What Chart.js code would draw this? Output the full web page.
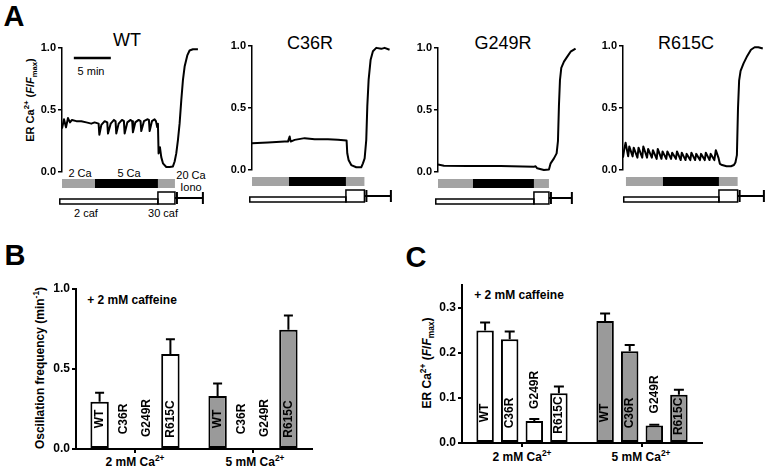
<!DOCTYPE html>
<html>
<head>
<meta charset="utf-8">
<script src="https://cdn.jsdelivr.net/npm/chart.js@4.4.1/dist/chart.umd.min.js"></script>
<style>
  html, body { margin: 0; padding: 0; background: #fff; }
  body { width: 768px; height: 468px; position: relative; overflow: hidden; font-family: 'Liberation Sans', Arial, sans-serif; color: #000; }
  canvas { position: absolute; }
  .t { position: absolute; transform: translate(-50%, -50%); white-space: nowrap; line-height: 1; }
  .r { transform: translate(-50%, -50%) rotate(-90deg); }
  .b { font-weight: bold; }
  sup, sub { font-size: 70%; line-height: 0; }
</style>
</head>
<body>

<!-- panel letters -->
<div class="t b" style="left:14px;top:16px;font-size:29px">A</div>
<div class="t b" style="left:15px;top:255px;font-size:29px">B</div>
<div class="t b" style="left:416px;top:257px;font-size:29px">C</div>

<!-- panel A -->
<div class="t" style="left:127px;top:40px;font-size:18px">WT</div>
<div class="t" style="left:310px;top:43px;font-size:18px">C36R</div>
<div class="t" style="left:503px;top:43px;font-size:18px">G249R</div>
<div class="t" style="left:686px;top:43px;font-size:18px">R615C</div>
<div class="t r b" style="left:30px;top:100px;font-size:11px">ER Ca<sup>2+</sup> (<i>F</i>/<i>F</i><sub>max</sub>)</div>
<div class="t" style="left:91px;top:71px;font-size:11px">5 min</div>
<div class="t" style="left:80px;top:173px;font-size:11px">2 Ca</div>
<div class="t" style="left:129px;top:173px;font-size:11px">5 Ca</div>
<div class="t" style="left:191px;top:175px;font-size:11px">20 Ca</div>
<div class="t" style="left:191px;top:187px;font-size:11px">Iono</div>
<div class="t" style="left:86px;top:213px;font-size:11px">2 caf</div>
<div class="t" style="left:163px;top:213px;font-size:11px">30 caf</div>

<canvas id="wt" width="180" height="174" style="left:32px;top:38px"></canvas>
<canvas id="c36r" width="180" height="174" style="left:222px;top:36px"></canvas>
<canvas id="g249r" width="180" height="174" style="left:408px;top:38px"></canvas>
<canvas id="r615c" width="180" height="174" style="left:593px;top:36px"></canvas>

<!-- panel B -->
<div class="t r b" style="left:40px;top:368px;font-size:12px">Oscillation frequency (min<sup>-1</sup>)</div>
<div class="t b" style="left:132px;top:300px;font-size:12px">+ 2 mM caffeine</div>
<div class="t b" style="left:135px;top:462px;font-size:12px">2 mM Ca<sup>2+</sup></div>
<div class="t b" style="left:255px;top:462px;font-size:12px">5 mM Ca<sup>2+</sup></div>
<canvas id="freq" width="290" height="198" style="left:40px;top:270px"></canvas>

<!-- panel C -->
<div class="t r b" style="left:427px;top:363px;font-size:12px">ER Ca<sup>2+</sup> (<i>F</i>/<i>F</i><sub>max</sub>)</div>
<div class="t b" style="left:519px;top:295px;font-size:12px">+ 2 mM caffeine</div>
<div class="t b" style="left:522px;top:457px;font-size:12px">2 mM Ca<sup>2+</sup></div>
<div class="t b" style="left:641px;top:457px;font-size:12px">5 mM Ca<sup>2+</sup></div>
<canvas id="erca" width="294" height="196" style="left:426px;top:266px"></canvas>

<script>
// ── Traces (time in min, ER Ca2+ as F/Fmax) ──

const wtTime = [0, 0.27, 0.54, 0.81, 1.08, 1.35, 1.94, 2.61, 3.29, 3.96, 4.41, 4.95, 5.05, 5.32, 5.77, 6.12, 6.22, 6.58, 7.03, 7.24, 7.34, 7.66, 8.11, 8.37, 8.47, 8.83, 9.28, 9.49, 9.59, 9.91, 10.36, 10.62, 10.72, 11.08, 11.53, 11.75, 11.85, 12.16, 12.52, 12.70, 12.88, 12.97, 13.06, 13.24, 13.42, 13.65, 14.10, 14.55, 15.0, 15.23, 15.45, 15.68, 15.9, 16.13, 16.35, 16.58, 16.94, 17.25, 17.7, 18.38];
const wtRatio = [0.35, 0.425, 0.36, 0.435, 0.40, 0.42, 0.41, 0.41, 0.40, 0.39, 0.40, 0.39, 0.30, 0.38, 0.41, 0.40, 0.31, 0.39, 0.42, 0.41, 0.31, 0.39, 0.42, 0.41, 0.31, 0.40, 0.42, 0.41, 0.32, 0.40, 0.42, 0.41, 0.33, 0.41, 0.425, 0.42, 0.33, 0.41, 0.425, 0.41, 0.36, 0.39, 0.15, 0.20, 0.12, 0.07, 0.04, 0.04, 0.045, 0.085, 0.15, 0.26, 0.39, 0.58, 0.74, 0.85, 0.94, 0.98, 0.99, 0.99];

const c36rTime = [0, 2.16, 4.41, 4.86, 5.09, 5.23, 5.77, 7.12, 8.47, 10.27, 11.62, 12.79, 12.88, 13.06, 13.42, 14.1, 14.77, 15.0, 15.23, 15.45, 15.59, 15.77, 16.04, 16.35, 16.8, 17.48, 17.93, 18.6];
const c36rRatio = [0.216, 0.221, 0.229, 0.229, 0.27, 0.229, 0.243, 0.257, 0.248, 0.248, 0.243, 0.237, 0.135, 0.081, 0.040, 0.022, 0.022, 0.054, 0.094, 0.243, 0.513, 0.729, 0.89, 0.958, 0.985, 0.977, 0.985, 0.97];

const g249rTime = [0, 0.81, 3.96, 8.47, 12.97, 13.2, 13.42, 14.32, 15.0, 15.23, 15.68, 16.04, 16.22, 16.35, 16.49, 16.67, 17.03, 17.48, 17.93, 18.6];
const g249rRatio = [0.06, 0.05, 0.048, 0.048, 0.043, 0.046, 0.03, 0.016, 0.02, 0.07, 0.11, 0.15, 0.25, 0.53, 0.74, 0.84, 0.89, 0.93, 0.97, 0.995];

const r615cTime = [0, 0.15, 0.35, 0.7, 0.85, 1.3, 1.45, 1.95, 2.1, 2.6, 2.75, 3.25, 3.4, 3.9, 4.05, 4.55, 4.7, 5.2, 5.35, 5.85, 6.0, 6.5, 6.65, 7.15, 7.3, 7.8, 7.95, 8.45, 8.6, 9.1, 9.25, 9.75, 9.9, 10.4, 10.55, 11.05, 11.2, 11.7, 11.85, 12.35, 12.55, 12.9, 13.1, 13.4, 14.0, 14.6, 15.0, 15.2, 15.4, 15.55, 15.7, 15.9, 16.3, 16.8, 17.3, 17.8, 18.3, 18.9];
const r615cRatio = [0.10, 0.16, 0.22, 0.11, 0.19, 0.11, 0.18, 0.10, 0.18, 0.10, 0.19, 0.10, 0.17, 0.10, 0.16, 0.09, 0.17, 0.09, 0.15, 0.09, 0.15, 0.09, 0.14, 0.09, 0.15, 0.08, 0.14, 0.08, 0.13, 0.08, 0.14, 0.08, 0.13, 0.08, 0.13, 0.08, 0.14, 0.08, 0.13, 0.08, 0.16, 0.10, 0.05, 0.04, 0.03, 0.03, 0.04, 0.06, 0.12, 0.50, 0.72, 0.80, 0.86, 0.92, 0.97, 0.99, 0.99, 0.98];

// protocol switch times (min): 2 Ca start, 5 Ca start, 20 Ca / 30 caf start, iono start, end
const wtSteps = [0, 4.46, 12.97, 15.27, 19.05];
const c36rSteps = [0, 5.0, 12.7, 15.2, 18.78];
const g249rSteps = [0, 4.73, 12.97, 15.0, 18.1];
const r615cSteps = [0.4, 5.4, 12.97, 15.5, 19.05];
const scaleBarMin = 5;

// ── Bar panels ──

const genotypes = ['WT', 'C36R', 'G249R', 'R615C'];
const caLevels = ['2 mM Ca2+', '5 mM Ca2+'];
const freq2 = [0.295, 0, 0, 0.594];
const freqErr2 = [0.056, 0, 0, 0.092];
const freq5 = [0.331, 0, 0, 0.745];
const freqErr5 = [0.079, 0, 0, 0.09];
const erCa2 = [0.249, 0.230, 0.049, 0.110];
const erCaErr2 = [0.018, 0.017, 0.004, 0.015];
const erCa5 = [0.270, 0.203, 0.039, 0.107];
const erCaErr5 = [0.017, 0.014, 0.0015, 0.011];

Chart.defaults.font.family = "'Liberation Sans', Arial, sans-serif";
Chart.defaults.color = '#000';

const FONT = "'Liberation Sans', Arial, sans-serif";

// ── Plugins ──

const protocolPlugin = {
  id: 'protocol',
  afterDraw(chart, args, o) {
    const { ctx, scales: { x, y } } = chart;
    const [s0, s5, s20, sIono, sEnd] = o.steps;
    const px = v => x.getPixelForValue(v);
    const y0 = y.getPixelForValue(0);
    ctx.save();
    // Ca bar
    ctx.fillStyle = '#a3a3a3';
    ctx.fillRect(px(s0), y0 + 7, px(s5) - px(s0), 9);
    ctx.fillRect(px(s20), y0 + 7, px(sIono) - px(s20), 9);
    ctx.fillStyle = '#000';
    ctx.fillRect(px(s5), y0 + 7, px(s20) - px(s5), 9);
    // caffeine
    ctx.strokeStyle = '#000';
    ctx.lineWidth = 1.5;
    ctx.fillStyle = '#fff';
    ctx.fillRect(px(s0 - 0.3), y0 + 27, px(s20) - px(s0 - 0.3), 5);
    ctx.strokeRect(px(s0 - 0.3), y0 + 27, px(s20) - px(s0 - 0.3), 5);
    ctx.strokeRect(px(s20), y0 + 20, px(sIono) - px(s20), 12);
    // iono
    ctx.lineWidth = 2;
    ctx.beginPath();
    ctx.moveTo(px(sIono), y0 + 26); ctx.lineTo(px(sEnd), y0 + 26);
    ctx.moveTo(px(sIono) + 2, y0 + 20); ctx.lineTo(px(sIono) + 2, y0 + 32);
    ctx.moveTo(px(sEnd), y0 + 20); ctx.lineTo(px(sEnd), y0 + 32);
    ctx.stroke();
    // time scale bar
    if (o.scaleBar) {
      ctx.lineWidth = 2.5;
      ctx.beginPath();
      ctx.moveTo(px(1.6), y.getPixelForValue(0.92));
      ctx.lineTo(px(1.6 + scaleBarMin), y.getPixelForValue(0.92));
      ctx.stroke();
    }
    ctx.restore();
  }
};

const barExtras = {
  id: 'barExtras',
  afterDatasetsDraw(chart, args, o) {
    const { ctx, scales: { y } } = chart;
    const y0 = y.getPixelForValue(0);
    ctx.save();
    ctx.strokeStyle = '#000';
    ctx.lineWidth = 2;
    ctx.fillStyle = '#000';
    ctx.font = `bold 12px ${FONT}`;
    ctx.textAlign = 'center';
    ctx.textBaseline = 'middle';
    chart.data.datasets.forEach((ds, i) => {
      chart.getDatasetMeta(i).data.forEach((bar, j) => {
        const e = ds.err[j];
        if (e) {
          const top = y.getPixelForValue(ds.data[j] + e);
          ctx.beginPath();
          ctx.moveTo(bar.x, bar.y); ctx.lineTo(bar.x, top);
          ctx.moveTo(bar.x - o.cap, top); ctx.lineTo(bar.x + o.cap, top);
          ctx.stroke();
        }
        // genotype name: inside tall bars, above short ones
        const half = ctx.measureText(ds.label).width / 2;
        const room = y0 - bar.y;
        const cy = room > half + 20
          ? Math.max(y0 - 30, bar.y + 3 + half)
          : Math.min(y0 - 30, bar.y - 12 - half);
        ctx.save();
        ctx.translate(bar.x, cy);
        ctx.rotate(-Math.PI / 2);
        ctx.fillText(ds.label, 0, 0);
        ctx.restore();
      });
    });
    ctx.restore();
  }
};

// ── Charts ──

function traceChart(id, time, ratio, steps, scaleBar) {
  return new Chart(document.getElementById(id), {
    type: 'line',
    data: {
      datasets: [{
        data: time.map((t, i) => ({ x: t, y: ratio[i] })),
        borderColor: '#000', borderWidth: 2, pointRadius: 0, tension: 0, fill: false,
        borderJoinStyle: 'round', clip: false,
      }],
    },
    options: {
      responsive: false, animation: false, devicePixelRatio: 1,
      layout: { padding: { top: 10, right: 8, bottom: 40, left: 0 } },
      plugins: { legend: { display: false }, tooltip: { enabled: false }, protocol: { steps, scaleBar } },
      scales: {
        x: { type: 'linear', display: false, min: 0, max: 19.2 },
        y: {
          min: 0, max: 1,
          afterFit: s => { s.width = 30; },
          ticks: { stepSize: 0.5, padding: 2, font: { size: 11, weight: 'bold' }, callback: v => v.toFixed(1) },
          grid: { drawOnChartArea: false, tickLength: 4, color: '#000', lineWidth: 1.5 },
          border: { color: '#000', width: 1.5 },
        },
      },
    },
    plugins: [protocolPlugin],
  });
}

traceChart('wt', wtTime, wtRatio, wtSteps, true);
traceChart('c36r', c36rTime, c36rRatio, c36rSteps, false);
traceChart('g249r', g249rTime, g249rRatio, g249rSteps, false);
traceChart('r615c', r615cTime, r615cRatio, r615cSteps, false);

function barChart(id, v2, e2, v5, e5, yMax, step, catPct, barPct, cap) {
  return new Chart(document.getElementById(id), {
    type: 'bar',
    data: {
      labels: caLevels,
      datasets: genotypes.map((g, i) => ({
        label: g,
        data: [v2[i], v5[i]],
        err: [e2[i], e5[i]],
        backgroundColor: ['#fff', '#9a9a9a'],
        borderColor: '#000', borderWidth: 2, borderSkipped: false,
        categoryPercentage: catPct, barPercentage: barPct,
      })),
    },
    options: {
      responsive: false, animation: false, devicePixelRatio: 1,
      layout: { padding: { top: 19, right: 18, bottom: 0, left: 0 } },
      plugins: { legend: { display: false }, tooltip: { enabled: false }, barExtras: { cap } },
      scales: {
        x: {
          afterFit: s => { s.height = 19; },
          ticks: { display: false },
          grid: { drawOnChartArea: false, offset: false, tickLength: 4, color: '#000', lineWidth: 2 },
          border: { color: '#000', width: 2 },
        },
        y: {
          min: 0, max: yMax,
          afterFit: s => { s.width = 36; },
          ticks: { stepSize: step, includeBounds: false, padding: 2, font: { size: 12, weight: 'bold' }, callback: v => v.toFixed(1) },
          grid: { drawOnChartArea: false, tickLength: 4, color: '#000', lineWidth: 2 },
          border: { color: '#000', width: 2 },
        },
      },
    },
    plugins: [barExtras],
  });
}

barChart('freq', freq2, freqErr2, freq5, freqErr5, 1, 0.5, 0.8, 0.78, 4.5);
barChart('erca', erCa2, erCaErr2, erCa5, erCaErr5, 0.35, 0.1, 0.82, 0.71, 5);
</script>
</body>
</html>
